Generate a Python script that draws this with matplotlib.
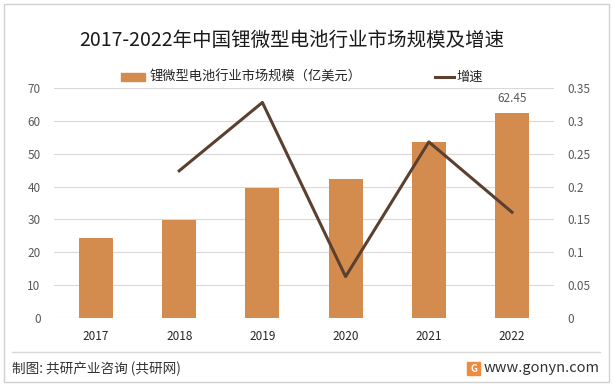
import matplotlib.pyplot as plt
from matplotlib.patches import Rectangle
from matplotlib.lines import Line2D

plt.rcParams['font.family'] = ['Noto Sans CJK SC', 'DejaVu Sans']

years = ['2017', '2018', '2019', '2020', '2021', '2022']
scale = [24.3, 29.8, 39.6, 42.3, 53.6, 62.45]
growth_years = ['2018', '2019', '2020', '2021', '2022']
growth = [0.224, 0.328, 0.063, 0.268, 0.161]

bar_color = '#D38C4E'
line_color = '#5B4030'
tick_color = '#595959'

fig = plt.figure(figsize=(6.14, 3.86), dpi=100)
ax = fig.add_axes([54.4 / 614, 68 / 386, 499.2 / 614, 230 / 386])
ax2 = ax.twinx()

x = list(range(len(years)))
ax.bar(x, scale, width=0.41, color=bar_color, zorder=2)
ax.set_xlim(-0.5, len(years) - 0.5)
ax.set_ylim(0, 70)
ax.set_yticks(range(0, 71, 10))
ax.set_xticks(x)
ax.set_xticklabels(years)
ax.grid(axis='y', color='#D9D9D9', linewidth=0.8, zorder=0)
ax.set_axisbelow(True)
ax.text(x[-1], scale[-1] + 2.5, '62.45', ha='center', va='bottom',
        fontsize=8.5, color=tick_color)

gx = [years.index(y) for y in growth_years]
ax2.plot(gx, growth, color=line_color, linewidth=2.2, zorder=3)
ax2.set_ylim(0, 0.35)
ax2.set_yticks([0, 0.05, 0.1, 0.15, 0.2, 0.25, 0.3, 0.35])
ax2.set_yticklabels(['0', '0.05', '0.1', '0.15', '0.2', '0.25', '0.3', '0.35'])

for a in (ax, ax2):
    for s in a.spines.values():
        s.set_visible(False)
    a.tick_params(length=0, labelsize=8.5, colors=tick_color)
ax.tick_params(axis='y', pad=10)
ax.tick_params(axis='x', pad=9, labelcolor='#262626')
ax2.tick_params(axis='y', pad=10)

# legend drawn by hand at reference positions
fig.patches.append(Rectangle((121 / 614, 1 - 81 / 386), 24 / 614, 8 / 386,
                             transform=fig.transFigure, color=bar_color))
fig.text(149 / 614, 1 - 77 / 386, '锂微型电池行业市场规模（亿美元）', fontsize=9.5,
         color='#262626', va='center')
fig.lines.append(Line2D([435 / 614, 454 / 614], [1 - 77 / 386, 1 - 77 / 386],
                        transform=fig.transFigure, color=line_color, linewidth=2.2))
fig.text(456 / 614, 1 - 77 / 386, '增速', fontsize=9.5, color='#262626', va='center')

fig.text(292 / 614, 1 - 40 / 386, '2017-2022年中国锂微型电池行业市场规模及增速',
         fontsize=14, ha='center', va='center', color='#1a1a1a',
         fontweight='light')

# frame and footer
fig.patches.append(Rectangle((4 / 614, 4 / 386), 605 / 614, 378 / 386,
                             transform=fig.transFigure, fill=False,
                             edgecolor='#D0D0D0', linewidth=1))
fig.lines.append(Line2D([12 / 614, 600 / 614], [1 - 352 / 386, 1 - 352 / 386],
                        transform=fig.transFigure, color='#D9D9D9', linewidth=1))
fig.text(12 / 614, 1 - 369 / 386, '制图: 共研产业咨询 (共研网)', fontsize=9.8,
         color='#333333', va='center', fontweight='medium')
fig.patches.append(Rectangle((467 / 614, 1 - 375 / 386), 13 / 614, 13 / 386,
                             transform=fig.transFigure, color='#F08A3C'))
fig.text(473.5 / 614, 1 - 368.5 / 386, 'G', fontsize=7, color='white',
         ha='center', va='center', fontweight='bold')
fig.text(600 / 614, 1 - 368 / 386, 'www.gonyn.com', fontsize=10.5,
         color='#333333', ha='right', va='center')

fig.savefig('out.png', dpi=100)
